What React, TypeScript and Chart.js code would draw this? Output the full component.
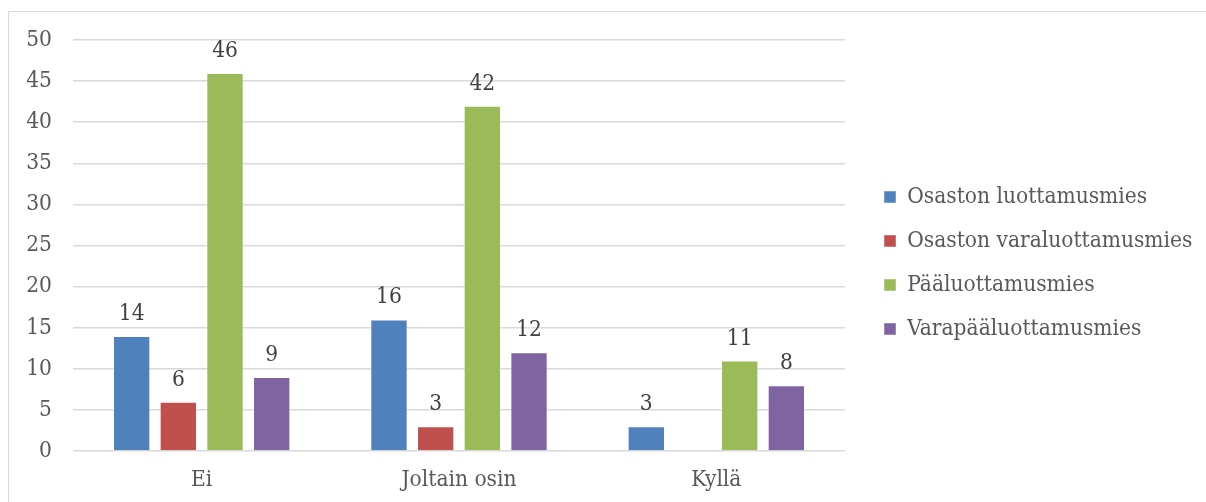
import React, { useEffect, useRef } from "react";
import { Chart, registerables } from "chart.js";

Chart.register(...registerables);

const categories = ["Ei", "Joltain osin", "Kyllä"];
const seriesNames = [
  "Osaston luottamusmies",
  "Osaston varaluottamusmies",
  "Pääluottamusmies",
  "Varapääluottamusmies",
];
const osastonLuottamusmies = [14, 16, 3];
const osastonVaraluottamusmies = [6, 3, null];
const paaluottamusmies = [46, 42, 11];
const varapaaluottamusmies = [9, 12, 8];
const seriesColors = ["#4F81BD", "#C0504D", "#9BBB59", "#8064A2"];
const yTicks = [0, 5, 10, 15, 20, 25, 30, 35, 40, 45, 50];

const FONT_FAMILY = "'DejaVu Serif Condensed', 'DejaVu Serif', serif";
const FONT_SIZE = 22.5;
const LEGEND_WIDTH = 343.5;

// Writes each bar's value above it
const valueLabels = {
  id: "valueLabels",
  afterDatasetsDraw(chart: any) {
    const ctx = chart.ctx;
    ctx.save();
    ctx.font = `${FONT_SIZE}px ${FONT_FAMILY}`;
    ctx.fillStyle = "#404040";
    ctx.textAlign = "center";
    ctx.textBaseline = "alphabetic";
    chart.data.datasets.forEach((ds: any, di: number) => {
      const meta = chart.getDatasetMeta(di);
      meta.data.forEach((bar: any, i: number) => {
        const v = ds.data[i];
        if (v === null || v === undefined) return;
        ctx.fillText(String(v), bar.x, bar.y - 16);
      });
    });
    ctx.restore();
  },
};

// Gives the legend a fixed width so the plot area keeps its size
const fixedLegendWidth = {
  id: "fixedLegendWidth",
  afterInit(chart: any) {
    const lg = chart.legend;
    if (!lg) return;
    const fit = lg.fit.bind(lg);
    lg.fit = function () {
      fit();
      this.width = LEGEND_WIDTH;
    };
  },
};

export default function App() {
  const canvasRef = useRef<HTMLCanvasElement | null>(null);

  useEffect(() => {
    const values = [
      osastonLuottamusmies,
      osastonVaraluottamusmies,
      paaluottamusmies,
      varapaaluottamusmies,
    ];
    const chart = new Chart(canvasRef.current!, {
      type: "bar",
      data: {
        labels: categories,
        datasets: values.map((d, i) => ({
          label: seriesNames[i],
          data: d,
          backgroundColor: seriesColors[i],
          borderColor: "rgba(255,255,255,0.45)",
          borderWidth: 1,
          categoryPercentage: 0.7256,
          barPercentage: 0.8,
        })),
      },
      options: {
        animation: false,
        responsive: false,
        maintainAspectRatio: false,
        layout: { padding: { top: 16, left: 0, right: 0, bottom: 4 } },
        plugins: {
          tooltip: { enabled: false },
          legend: {
            position: "right",
            labels: {
              boxWidth: 12,
              boxHeight: 12,
              padding: 21.5,
              color: "#595959",
              font: { family: FONT_FAMILY, size: FONT_SIZE },
            },
          },
        },
        scales: {
          x: {
            grid: { display: false },
            border: { display: false },
            ticks: {
              color: "#595959",
              padding: 8,
              font: { family: FONT_FAMILY, size: FONT_SIZE },
            },
            afterFit: (s: any) => {
              s.height = 47;
            },
          },
          y: {
            min: 0,
            max: 50,
            afterBuildTicks: (s: any) => {
              s.ticks = yTicks.map((v) => ({ value: v }));
            },
            grid: { color: "#d9d9d9", lineWidth: 1.5, drawTicks: false },
            border: { display: false },
            ticks: {
              color: "#595959",
              padding: 21,
              font: { family: FONT_FAMILY, size: FONT_SIZE },
            },
            afterFit: (s: any) => {
              s.width = 64;
              s.paddingTop = 28;
              s.paddingBottom = 0;
            },
          },
          gap: {
            position: "right",
            display: true,
            grid: { display: false, drawTicks: false },
            border: { display: false },
            ticks: { display: false },
            afterFit: (s: any) => {
              s.width = 17.5;
            },
          },
        },
      },
      plugins: [valueLabels, fixedLegendWidth],
    });
    return () => chart.destroy();
  }, []);

  return (
    <div
      style={{
        position: "fixed",
        left: 8,
        top: 11,
        right: 0,
        bottom: 0,
        borderTop: "1px solid #d9d9d9",
        borderLeft: "1px solid #d9d9d9",
        background: "#fff",
      }}
    >
      <canvas ref={canvasRef} width={1197} height={490} style={{ display: "block" }} />
    </div>
  );
}
